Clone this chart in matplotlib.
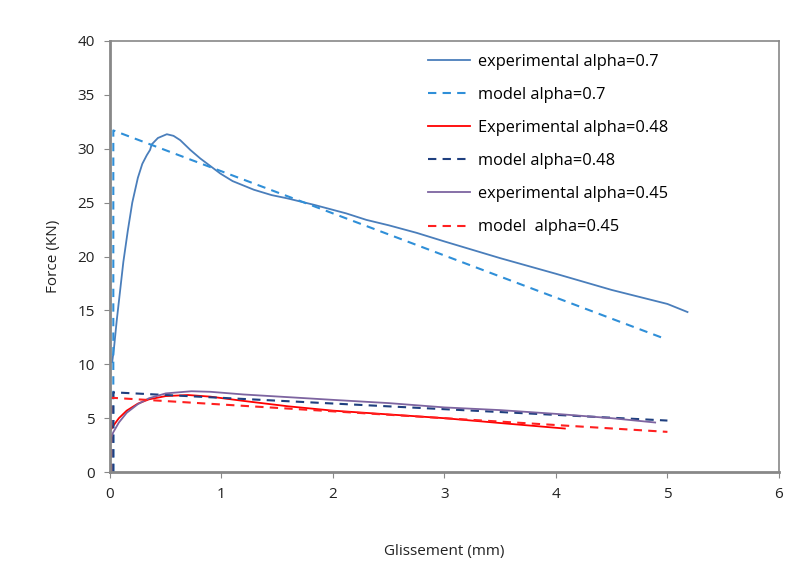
import matplotlib
matplotlib.use("Agg")
import matplotlib.pyplot as plt

# Experimental alpha=0.7
exp07_x = [0.02, 0.036, 0.06, 0.084, 0.12, 0.16, 0.2, 0.25, 0.29, 0.33, 0.36, 0.374, 0.43, 0.51, 0.57, 0.63, 0.72, 0.81, 0.9, 0.99, 1.1, 1.29, 1.45, 1.59, 1.83, 2.12, 2.3, 2.5, 2.75, 3.0, 3.5, 4.0, 4.5, 5.0, 5.18]
exp07_y = [10.2, 11.5, 14.0, 16.2, 19.5, 22.4, 25.0, 27.3, 28.6, 29.4, 29.9, 30.4, 31.0, 31.35, 31.2, 30.8, 29.9, 29.1, 28.4, 27.7, 27.0, 26.2, 25.7, 25.4, 24.8, 24.0, 23.4, 22.9, 22.2, 21.4, 19.85, 18.4, 16.9, 15.6, 14.85]

# Model alpha=0.7
mod07_x = [0.03, 0.03, 4.97]
mod07_y = [0.0, 31.7, 12.4]

# Experimental alpha=0.48
exp048_x = [0.0, 0.03, 0.08, 0.15, 0.25, 0.35, 0.5, 0.7, 0.9, 1.2, 1.6, 2.0, 2.5, 3.0, 3.5, 4.08]
exp048_y = [3.8, 4.3, 5.0, 5.7, 6.35, 6.75, 7.05, 7.15, 7.0, 6.6, 6.1, 5.7, 5.35, 5.0, 4.55, 4.04]

# Model alpha=0.48
mod048_x = [0.03, 0.03, 5.0]
mod048_y = [0.0, 7.4, 4.78]

# Experimental alpha=0.45
exp045_x = [0.0, 0.03, 0.08, 0.15, 0.25, 0.35, 0.5, 0.73, 0.9, 1.2, 1.6, 2.0, 2.5, 3.0, 3.5, 4.0, 4.5, 4.89]
exp045_y = [3.0, 3.7, 4.6, 5.5, 6.3, 6.85, 7.3, 7.5, 7.45, 7.2, 6.95, 6.7, 6.4, 6.0, 5.75, 5.4, 5.0, 4.6]

# Model alpha=0.45
mod045_x = [0.01, 0.01, 5.0]
mod045_y = [0.0, 6.9, 3.73]

labels = ["experimental alpha=0.7", "model alpha=0.7", "Experimental alpha=0.48",
          "model alpha=0.48", "experimental alpha=0.45", "model  alpha=0.45"]

x_ticks = [0, 1, 2, 3, 4, 5, 6]
y_ticks = [0, 5, 10, 15, 20, 25, 30, 35, 40]

plt.rcParams['font.family'] = ['Open Sans', 'DejaVu Sans']

fig = plt.figure(figsize=(7.94, 5.75), dpi=100)
ax = fig.add_axes([0.1385, 0.179, 0.8425, 0.7497])

ax.plot(exp07_x, exp07_y, color="#4a7ebb", lw=1.3, label=labels[0])
ax.plot(mod07_x, mod07_y, color="#2f8fd8", lw=1.5, ls=(0, (4, 3)), label=labels[1])
ax.plot(exp048_x, exp048_y, color="#ff0000", lw=1.3, label=labels[2])
ax.plot(mod048_x, mod048_y, color="#1f3f7f", lw=1.5, ls=(0, (4, 3)), label=labels[3])
ax.plot(exp045_x, exp045_y, color="#7d64a0", lw=1.3, label=labels[4])
ax.plot(mod045_x, mod045_y, color="#ff2020", lw=1.5, ls=(0, (4, 3)), label=labels[5])

ax.set_xlim(0, 6)
ax.set_ylim(0, 40)
ax.set_xticks(x_ticks)
ax.set_yticks(y_ticks)
ax.tick_params(axis='both', direction='out', length=4, color='#888888', labelsize=11, labelcolor='#222222', pad=7)
for s in ax.spines.values():
    s.set_color('#888888')
    s.set_linewidth(1.2)
ax.spines['left'].set_linewidth(2.0)
ax.spines['bottom'].set_linewidth(2.0)

ax.set_xlabel("Glissement (mm)", fontsize=11, labelpad=30, color='#222222')
ax.set_ylabel("Force (KN)", fontsize=11, labelpad=12, color='#222222')

leg = ax.legend(loc='upper left', bbox_to_anchor=(0.465, 0.985), frameon=False,
                fontsize=11.8, handlelength=2.6, handletextpad=0.45, labelspacing=1.04,
                borderaxespad=0)

fig.savefig("out.png", dpi=100)
